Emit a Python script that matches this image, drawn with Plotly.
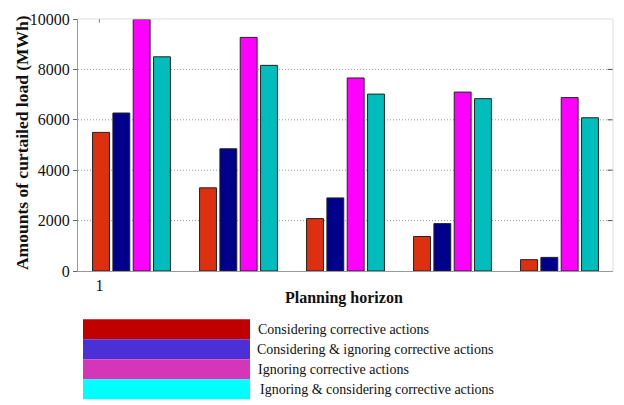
import plotly.graph_objects as go

# Planning horizon stages and curtailed load per scenario (MWh)
stages = [1, 2, 3, 4, 5]
considering = [5500, 3300, 2080, 1370, 450]
considering_ignoring = [6270, 4850, 2900, 1880, 540]
ignoring = [9980, 9270, 7660, 7100, 6880]
ignoring_considering = [8500, 8160, 7020, 6840, 6080]

series_names = [
    "Considering corrective actions",
    "Considering & ignoring corrective actions",
    "Ignoring corrective actions",
    "Ignoring & considering corrective actions",
]
series_values = [considering, considering_ignoring, ignoring, ignoring_considering]
bar_colors = ["#DD3010", "#00008B", "#FF00FF", "#00BDBD"]
legend_colors = ["#C00000", "#4B30D8", "#D535B8", "#00FFFF"]

y_ticks = [0, 2000, 4000, 6000, 8000, 10000]
y_tick_text = [str(v) for v in y_ticks]

SERIF = "Liberation Serif"

fig = go.Figure()
for name, vals, col in zip(series_names, series_values, bar_colors):
    fig.add_trace(go.Bar(
        x=stages, y=vals, name=name,
        marker=dict(color=col, line=dict(color="#222222", width=1)),
        showlegend=False,
    ))

# dotted horizontal grid lines
for v in y_ticks[1:-1]:
    fig.add_shape(type="line", xref="paper", yref="y", x0=0, x1=1, y0=v, y1=v,
                  line=dict(color="#999999", width=1, dash="1px,2px"), layer="below")
    # small inner tick on the right border
    fig.add_shape(type="line", xref="paper", yref="y", x0=0.99, x1=1, y0=v, y1=v,
                  line=dict(color="#555555", width=1))

# frame: light top/right, grey left/bottom
fig.add_shape(type="line", xref="paper", yref="paper", x0=0, x1=1, y0=1, y1=1,
              line=dict(color="#DDDDDD", width=1))
fig.add_shape(type="line", xref="paper", yref="paper", x0=1, x1=1, y0=0, y1=1,
              line=dict(color="#DDDDDD", width=1))
# mirrored x tick on the top border
fig.add_shape(type="line", xref="x", yref="paper", x0=0.7, x1=0.7, y0=0.985, y1=1,
              line=dict(color="#888888", width=1))

# custom legend below the plot
sw_x0, sw_x1 = 83, 250
sw_top, sw_h = 320, 20.3
W, H = 624, 405
text_x = [258, 257, 258, 260]
for i, (name, col) in enumerate(zip(series_names, legend_colors)):
    y0 = sw_top + i * sw_h
    y1 = y0 + sw_h
    fig.add_shape(type="rect", xref="paper", yref="paper",
                  x0=(sw_x0 - 78) / 535, x1=(sw_x1 - 78) / 535,
                  y0=(271 - y1) / 256, y1=(271 - y0) / 256,
                  fillcolor=col, line=dict(width=0))
    fig.add_annotation(xref="paper", yref="paper",
                       x=(text_x[i] - 80) / 535, y=(271 - (y0 + sw_h / 2)) / 256,
                       text=name, showarrow=False, xanchor="left", yanchor="middle",
                       font=dict(family=SERIF, size=14, color="#111111"))

# axis titles
fig.add_annotation(xref="paper", yref="paper", x=(344 - 78) / 535, y=(271 - 298) / 256,
                   text="<b>Planning horizon</b>", showarrow=False,
                   xanchor="center", yanchor="middle",
                   font=dict(family=SERIF, size=16, color="#111111"))
fig.add_annotation(xref="paper", yref="paper", x=(22 - 78) / 535, y=(271 - 141) / 256,
                   text="<b>Amounts of curtailed load (MWh)</b>", showarrow=False,
                   textangle=-90, xanchor="center", yanchor="middle",
                   font=dict(family=SERIF, size=17.5, color="#111111"))

fig.update_layout(
    width=W, height=H,
    margin=dict(l=78, r=11, t=15, b=134),
    paper_bgcolor="white", plot_bgcolor="white",
    barmode="group", bargap=0.24, bargroupgap=0.17,
    xaxis=dict(range=[0.5, 5.5], tickvals=[0.7], ticktext=["1"],
               showgrid=False, zeroline=False,
               showline=True, linecolor="#999999", linewidth=1,
               ticks="", tickfont=dict(family=SERIF, size=16, color="#111111")),
    yaxis=dict(range=[0, 10000], tickvals=y_ticks, ticktext=y_tick_text,
               showgrid=False, zeroline=False,
               showline=True, linecolor="#999999", linewidth=1,
               ticks="outside", ticklen=4, tickcolor="#666666",
               tickfont=dict(family=SERIF, size=16, color="#111111")),
)

fig.write_html("out.html")
